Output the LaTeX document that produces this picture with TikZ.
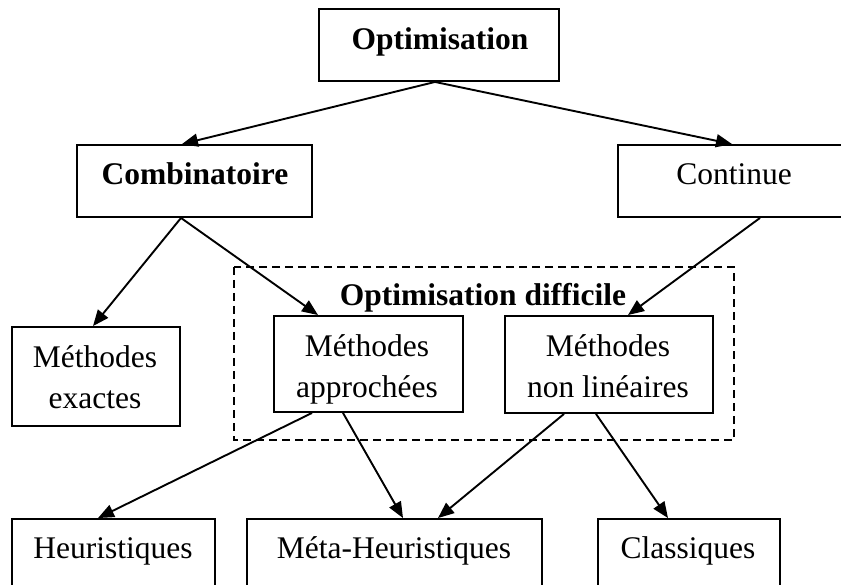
\documentclass[tikz,border=0pt]{standalone}
\usepackage{fontspec}
\setmainfont{Liberation Serif}
\usetikzlibrary{arrows.meta}
\begin{document}
\begin{tikzpicture}[x=1pt,y=-1pt,
  box/.style={draw, line width=1.9pt, rectangle, inner sep=0pt},
  lbl/.style={font=\fontsize{31.5}{40}\selectfont, inner sep=0pt, anchor=base, align=center},
  bflbl/.style={font=\fontsize{31.5}{40}\selectfont\bfseries, inner sep=0pt, anchor=base},
  arr/.style={-{Triangle[length=16pt,width=13pt]}, line width=1.9pt},
  dashbox/.style={draw, line width=1.7pt, dash pattern=on 8pt off 5pt}]
\useasboundingbox (0,0) rectangle (841,585);
\clip (0,0) rectangle (841,585);
\fill[white] (0,0) rectangle (841,585);

% boxes
\node[box, minimum width=240pt, minimum height=72pt] (opt) at (439,45) {};
\node[box, minimum width=235pt, minimum height=72pt] (comb) at (194.5,181) {};
\node[box, minimum width=232pt, minimum height=72pt] (cont) at (734,181) {};
\node[box, minimum width=168pt, minimum height=99pt] (exact) at (96,376.5) {};
\draw[dashbox] (234,267) rectangle (734,440);
\node[box, minimum width=189pt, minimum height=96pt] (appr) at (368.5,364) {};
\node[box, minimum width=208pt, minimum height=97pt] (nonlin) at (609,364.5) {};
\node[box, minimum width=203pt, minimum height=72pt] (heur) at (113.5,555) {};
\node[box, minimum width=295pt, minimum height=72pt] (meta) at (394.5,555) {};
\node[box, minimum width=182pt, minimum height=72pt] (class) at (689,555) {};

% labels
\node[bflbl] (optT) at (440,50) {Optimisation};
\node[bflbl] (combT) at (195,185) {Combinatoire};
\node[lbl] (contT) at (734,185) {Continue};
\node[bflbl] (diffT) at (483,306) {Optimisation difficile};
\node[lbl] (exactT) at (95,408) {Méthodes\\exactes};
\node[lbl] (apprT) at (367,397) {Méthodes\\approchées};
\node[lbl] (nonlinT) at (608,397) {Méthodes\\non linéaires};
\node[lbl] (heurT) at (113,558) {Heuristiques};
\node[lbl] (metaT) at (394,558) {Méta-Heuristiques};
\node[lbl] (classT) at (688,558) {Classiques};

% connectors
\draw[arr] ([xshift=-4pt]opt.south) -- ([xshift=-12.5pt]comb.north);
\draw[arr] ([xshift=-4pt]opt.south) -- ([xshift=-2pt]cont.north);
\draw[arr] ([xshift=-13.5pt]comb.south) -- ([xshift=-3pt]exact.north);
\draw[arr] ([xshift=-13.5pt]comb.south) -- ([xshift=-50.5pt]appr.north);
\draw[arr] ([xshift=26pt]cont.south) -- ([xshift=19pt]nonlin.north);
\draw[arr] ([xshift=-56.5pt]appr.south) -- ([xshift=-15.5pt]heur.north);
\draw[arr] ([xshift=-25.5pt]appr.south) -- ([xshift=8.5pt]meta.north);
\draw[arr] ([xshift=-45pt]nonlin.south) -- ([xshift=43.5pt]meta.north);
\draw[arr] ([xshift=-13pt]nonlin.south) -- ([xshift=-21pt]class.north);
\end{tikzpicture}
\end{document}
